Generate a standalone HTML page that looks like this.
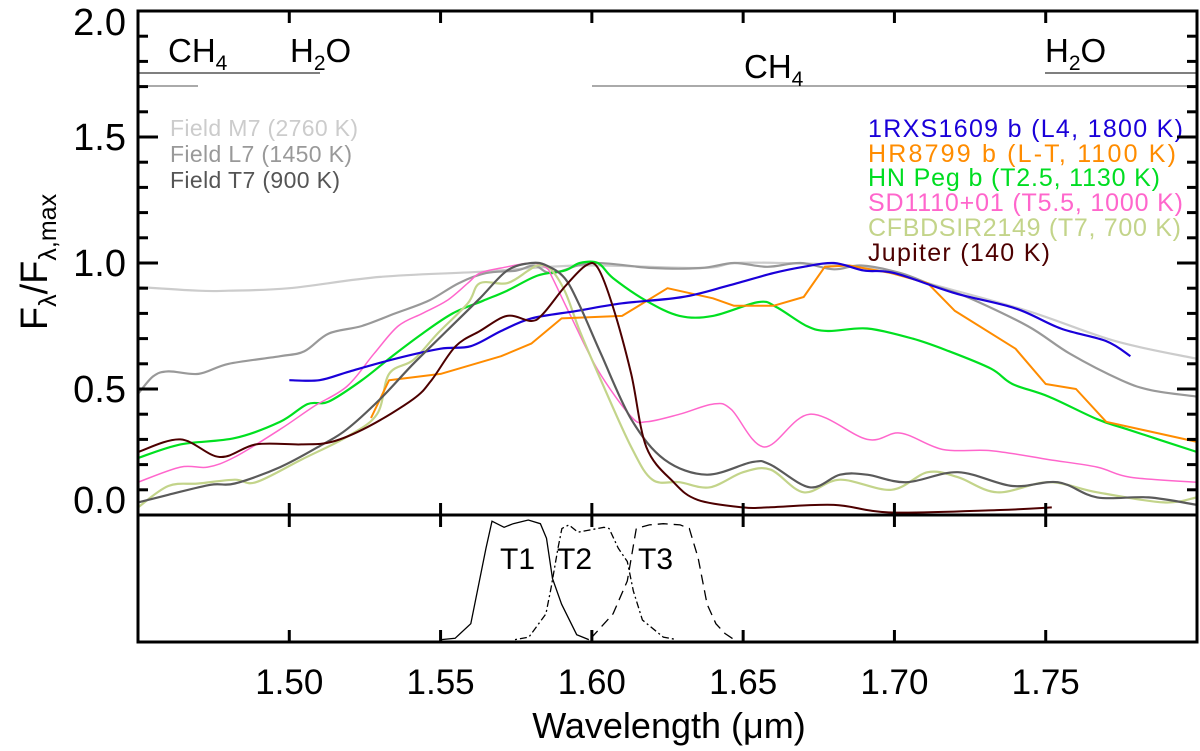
<!DOCTYPE html>
<html><head><meta charset="utf-8"><style>
body{margin:0;background:#fff;}
svg{display:block;font-family:"Liberation Sans",sans-serif;}
</style></head><body>
<svg id="chart" width="1200" height="751" viewBox="0 0 1200 751" xmlns="http://www.w3.org/2000/svg">
<g id="annot">
 <line x1="138" y1="73" x2="320" y2="73" stroke="#333" stroke-width="1.2"/>
 <line x1="138" y1="86" x2="198" y2="86" stroke="#777" stroke-width="1.2"/>
 <line x1="592" y1="86" x2="1197" y2="86" stroke="#777" stroke-width="1.2"/>
 <line x1="1045" y1="73" x2="1197" y2="73" stroke="#333" stroke-width="1.2"/>
 <text x="168" y="62" font-size="33">CH<tspan font-size="21" dy="8">4</tspan></text>
 <text x="290" y="62" font-size="33">H<tspan font-size="21" dy="8">2</tspan><tspan dy="-8">O</tspan></text>
 <text x="744" y="78" font-size="33">CH<tspan font-size="21" dy="8">4</tspan></text>
 <text x="1045" y="62" font-size="33">H<tspan font-size="21" dy="8">2</tspan><tspan dy="-8">O</tspan></text>
</g>
<g id="legend-left" font-size="23">
 <text x="170" y="136" fill="#cccccc" textLength="188">Field M7 (2760 K)</text>
 <text x="170" y="162" fill="#999999" textLength="182">Field L7 (1450 K)</text>
 <text x="170" y="188" fill="#555555" textLength="170">Field T7 (900 K)</text>
</g>
<g id="legend-right" font-size="25">
 <text x="868" y="137" fill="#1a00d9" textLength="315">1RXS1609 b (L4, 1800 K)</text>
 <text x="868" y="162" fill="#ff8c00" textLength="308">HR8799 b (L-T, 1100 K)</text>
 <text x="868" y="186" fill="#00dd22" textLength="292">HN Peg b (T2.5, 1130 K)</text>
 <text x="868" y="211" fill="#ff66cc" textLength="315">SD1110+01 (T5.5, 1000 K)</text>
 <text x="868" y="236" fill="#c3d48a" textLength="313">CFBDSIR2149 (T7, 700 K)</text>
 <text x="868" y="261" fill="#4d0000" textLength="182">Jupiter (140 K)</text>
</g>
<g id="series"></g>
<g id="filters"></g>
<g id="axes"></g>
<text x="669" y="738" font-size="36" text-anchor="middle">Wavelength (μm)</text>
<text transform="translate(47,262) rotate(-90)" font-size="38" text-anchor="middle">F<tspan font-size="25" dy="9">λ</tspan><tspan dy="-9">/F</tspan><tspan font-size="25" dy="9">λ,max</tspan></text>
</svg>
<script>
const xTicks=[1.50,1.55,1.60,1.65,1.70,1.75];
const xTickLabels=["1.50","1.55","1.60","1.65","1.70","1.75"];
const yTicks=[0,0.5,1.0,1.5,2.0];
const yTickLabels=["0.0","0.5","1.0","1.5","2.0"];
const m7W=[1.45,1.47,1.48,1.50,1.53,1.563,1.596,1.636,1.647,1.663,1.685,1.699,1.711,1.744,1.773,1.80];
const m7F=[0.905,0.89,0.89,0.90,0.945,0.965,0.99,0.98,1.0,1.0,0.99,0.96,0.92,0.81,0.69,0.62];
const l7W=[1.45,1.455,1.46,1.47,1.48,1.497,1.505,1.513,1.524,1.535,1.546,1.556,1.565,1.575,1.581,1.587,1.60,1.62,1.636,1.647,1.658,1.669,1.680,1.689,1.702,1.713,1.724,1.744,1.758,1.775,1.785,1.80];
const l7F=[0.48,0.55,0.57,0.56,0.60,0.63,0.65,0.72,0.75,0.80,0.85,0.92,0.96,0.97,0.99,0.96,1.0,0.98,0.98,1.0,0.985,1.0,0.975,0.99,0.96,0.91,0.865,0.75,0.64,0.535,0.495,0.47];
const t7W=[1.45,1.46,1.474,1.482,1.497,1.511,1.519,1.53,1.541,1.552,1.563,1.572,1.58,1.585,1.591,1.596,1.603,1.613,1.624,1.638,1.653,1.659,1.672,1.682,1.691,1.704,1.721,1.739,1.754,1.767,1.784,1.80];
const t7F=[0.05,0.08,0.12,0.125,0.19,0.28,0.34,0.46,0.60,0.73,0.86,0.97,1.0,0.99,0.94,0.83,0.64,0.38,0.22,0.16,0.21,0.20,0.11,0.16,0.16,0.13,0.17,0.115,0.13,0.07,0.07,0.04];
const rxsW=[1.50,1.51,1.52,1.535,1.55,1.56,1.57,1.58,1.595,1.61,1.63,1.645,1.66,1.67,1.68,1.69,1.70,1.72,1.74,1.755,1.77,1.778];
const rxsF=[0.535,0.535,0.57,0.62,0.66,0.67,0.73,0.78,0.81,0.84,0.865,0.91,0.96,0.985,1.0,0.97,0.96,0.88,0.82,0.74,0.69,0.63];
const hrW=[1.527,1.533,1.55,1.57,1.58,1.59,1.61,1.625,1.64,1.647,1.66,1.67,1.677,1.685,1.699,1.711,1.72,1.74,1.75,1.76,1.77,1.80];
const hrF=[0.385,0.535,0.56,0.63,0.68,0.78,0.79,0.90,0.86,0.83,0.83,0.865,0.985,0.99,0.96,0.92,0.81,0.66,0.52,0.50,0.37,0.29];
const hnW=[1.45,1.464,1.482,1.497,1.506,1.513,1.524,1.534,1.544,1.554,1.564,1.572,1.582,1.591,1.596,1.602,1.607,1.618,1.629,1.640,1.655,1.661,1.671,1.678,1.691,1.706,1.718,1.732,1.739,1.751,1.767,1.777,1.80];
const hnF=[0.226,0.28,0.305,0.37,0.44,0.45,0.535,0.63,0.72,0.80,0.85,0.89,0.95,0.97,1.0,1.0,0.94,0.85,0.79,0.79,0.845,0.825,0.75,0.73,0.74,0.70,0.65,0.58,0.52,0.47,0.38,0.34,0.25];
const sdW=[1.45,1.464,1.473,1.482,1.497,1.508,1.519,1.528,1.536,1.544,1.552,1.559,1.563,1.570,1.580,1.585,1.587,1.593,1.602,1.613,1.618,1.629,1.640,1.646,1.657,1.672,1.691,1.702,1.716,1.732,1.751,1.767,1.778,1.80];
const sdF=[0.13,0.19,0.19,0.23,0.34,0.43,0.51,0.64,0.75,0.80,0.85,0.92,0.96,0.98,1.0,0.98,0.94,0.79,0.575,0.39,0.37,0.40,0.44,0.42,0.27,0.40,0.30,0.325,0.26,0.255,0.22,0.19,0.15,0.13];
const cfW=[1.45,1.46,1.47,1.482,1.489,1.504,1.519,1.529,1.533,1.541,1.549,1.559,1.563,1.572,1.579,1.582,1.586,1.591,1.596,1.603,1.613,1.620,1.629,1.639,1.650,1.659,1.670,1.682,1.699,1.711,1.721,1.734,1.751,1.767,1.789,1.80];
const cfF=[0.03,0.115,0.125,0.14,0.13,0.22,0.31,0.40,0.56,0.615,0.72,0.84,0.92,0.92,0.97,0.99,0.98,0.89,0.73,0.535,0.27,0.14,0.13,0.11,0.17,0.18,0.09,0.14,0.10,0.17,0.15,0.09,0.13,0.09,0.05,0.07];
const jupW=[1.45,1.464,1.477,1.489,1.504,1.514,1.526,1.541,1.547,1.555,1.563,1.572,1.580,1.584,1.591,1.598,1.602,1.607,1.613,1.618,1.627,1.635,1.650,1.658,1.680,1.699,1.735,1.752];
const jupF=[0.25,0.30,0.23,0.28,0.28,0.29,0.35,0.46,0.535,0.67,0.73,0.79,0.77,0.80,0.905,0.99,0.98,0.825,0.56,0.27,0.13,0.06,0.03,0.03,0.04,0.01,0.02,0.03];
const t1W=[1.5502,1.5548,1.560,1.565,1.567,1.571,1.574,1.579,1.583,1.585,1.587,1.590,1.595,1.599];
const t1R=[0.02,0.03,0.15,0.77,0.99,0.94,0.97,1.0,0.97,0.85,0.52,0.31,0.06,0.02];
const t2W=[1.5746,1.5792,1.5848,1.5865,1.5888,1.5901,1.5924,1.5954,1.5997,1.6040,1.6057,1.6087,1.6117,1.6137,1.6167,1.6236,1.628];
const t2R=[0.02,0.04,0.23,0.44,0.77,0.93,0.96,0.90,0.92,0.94,0.93,0.77,0.66,0.42,0.18,0.04,0.02];
const t3W=[1.5997,1.607,1.6117,1.6147,1.619,1.6236,1.6292,1.6322,1.6351,1.6381,1.641,1.644,1.647];
const t3R=[0.03,0.23,0.50,0.93,0.96,0.97,0.96,0.93,0.69,0.31,0.15,0.07,0.02];

const NS="http://www.w3.org/2000/svg";
const X0=138,X1=1197,Y0=515,Y1=11,B0=642,B1=520;
const xs=w=>X0+(w-1.45)/(1.80-1.45)*(X1-X0);
const ys=f=>Y0+(f/2.0)*(Y1-Y0);
const yb=r=>B0+r*(B1-B0);
function mk(tag,attrs,parent){const e=document.createElementNS(NS,tag);for(const k in attrs)e.setAttribute(k,attrs[k]);parent.appendChild(e);return e;}
function smooth(pts){let d="M"+pts[0][0].toFixed(1)+","+pts[0][1].toFixed(1);
 for(let i=0;i<pts.length-1;i++){const p0=pts[Math.max(0,i-1)],p1=pts[i],p2=pts[i+1],p3=pts[Math.min(pts.length-1,i+2)];
 const c1=[p1[0]+(p2[0]-p0[0])/6,p1[1]+(p2[1]-p0[1])/6],c2=[p2[0]-(p3[0]-p1[0])/6,p2[1]-(p3[1]-p1[1])/6];
 d+="C"+c1.map(v=>v.toFixed(1))+" "+c2.map(v=>v.toFixed(1))+" "+p2.map(v=>v.toFixed(1));}return d;}
function linear(pts){return "M"+pts.map(p=>p[0].toFixed(1)+","+p[1].toFixed(1)).join("L");}
const sg=document.getElementById("series");
function addSeries(name,W,F,color,width,lin){
 const pts=W.map((w,i)=>[xs(w),ys(F[i])]);
 const p=mk("path",{d:lin?linear(pts):smooth(pts),fill:"none",stroke:color,"stroke-width":width,"stroke-linejoin":"round"},sg);
 
 
}
addSeries("series-field-m7",m7W,m7F,"#cccccc",2.2);
addSeries("series-field-l7",l7W,l7F,"#999999",2.2);
addSeries("series-hn-peg-b",hnW,hnF,"#00e020",2.2);
addSeries("series-sd1110",sdW,sdF,"#ff66cc",1.5);
addSeries("series-cfbdsir2149",cfW,cfF,"#c3d48a",2.2);
addSeries("series-hr8799-b",hrW,hrF,"#ff8c00",2,true);
addSeries("series-1rxs1609-b",rxsW,rxsF,"#1a00d9",2.2);
addSeries("series-field-t7",t7W,t7F,"#5a5a5a",2.2);
addSeries("series-jupiter",jupW,jupF,"#4d0000",2);
const fg=document.getElementById("filters");
function addFilter(name,W,R,dash){
 const pts=W.map((w,i)=>[xs(w),yb(R[i])]);
 const p=mk("path",{d:linear(pts),fill:"none",stroke:"#000","stroke-width":1.3,"stroke-dasharray":dash},fg);
 
 
}
addFilter("filter-t1",t1W,t1R,"none");
addFilter("filter-t2",t2W,t2R,"2,3,7,3");
addFilter("filter-t3",t3W,t3R,"10,6");
[["T1",500],["T2",557],["T3",638]].forEach(([t,x])=>{const e=mk("text",{x:x,y:569,"font-size":30},fg);e.textContent=t;
 
 });
const ax=document.getElementById("axes");
mk("rect",{x:X0,y:Y1,width:X1-X0,height:B0-Y1,fill:"none",stroke:"#000","stroke-width":3},ax);
mk("line",{x1:X0,y1:Y0,x2:X1,y2:Y0,stroke:"#000","stroke-width":3},ax);
xTicks.forEach((v,i)=>{const x=xs(v);
 [[Y1,12],[Y0,-12],[Y0,12],[B0,-12]].forEach(([y,l])=>mk("line",{x1:x,y1:y,x2:x,y2:y+l,stroke:"#000","stroke-width":3},ax));
 const t=mk("text",{x:x,y:694,"font-size":35,"text-anchor":"middle"},ax);t.textContent=xTickLabels[i];
 
 });
for(let k=0;k<=20;k++){const v=k*0.1,y=ys(v),len=(k%5===0)?20:10;
 mk("line",{x1:X0,y1:y,x2:X0+len,y2:y,stroke:"#000","stroke-width":3},ax);
 mk("line",{x1:X1,y1:y,x2:X1-len,y2:y,stroke:"#000","stroke-width":3},ax);}
yTicks.forEach((v,i)=>{const y=(i===0)?ys(v)-2:(i===4?ys(v)+24:ys(v)+13);const t=mk("text",{x:126,y:y,"font-size":38,"text-anchor":"end"},ax);t.textContent=yTickLabels[i];
 
 });
</script>
</body></html>
